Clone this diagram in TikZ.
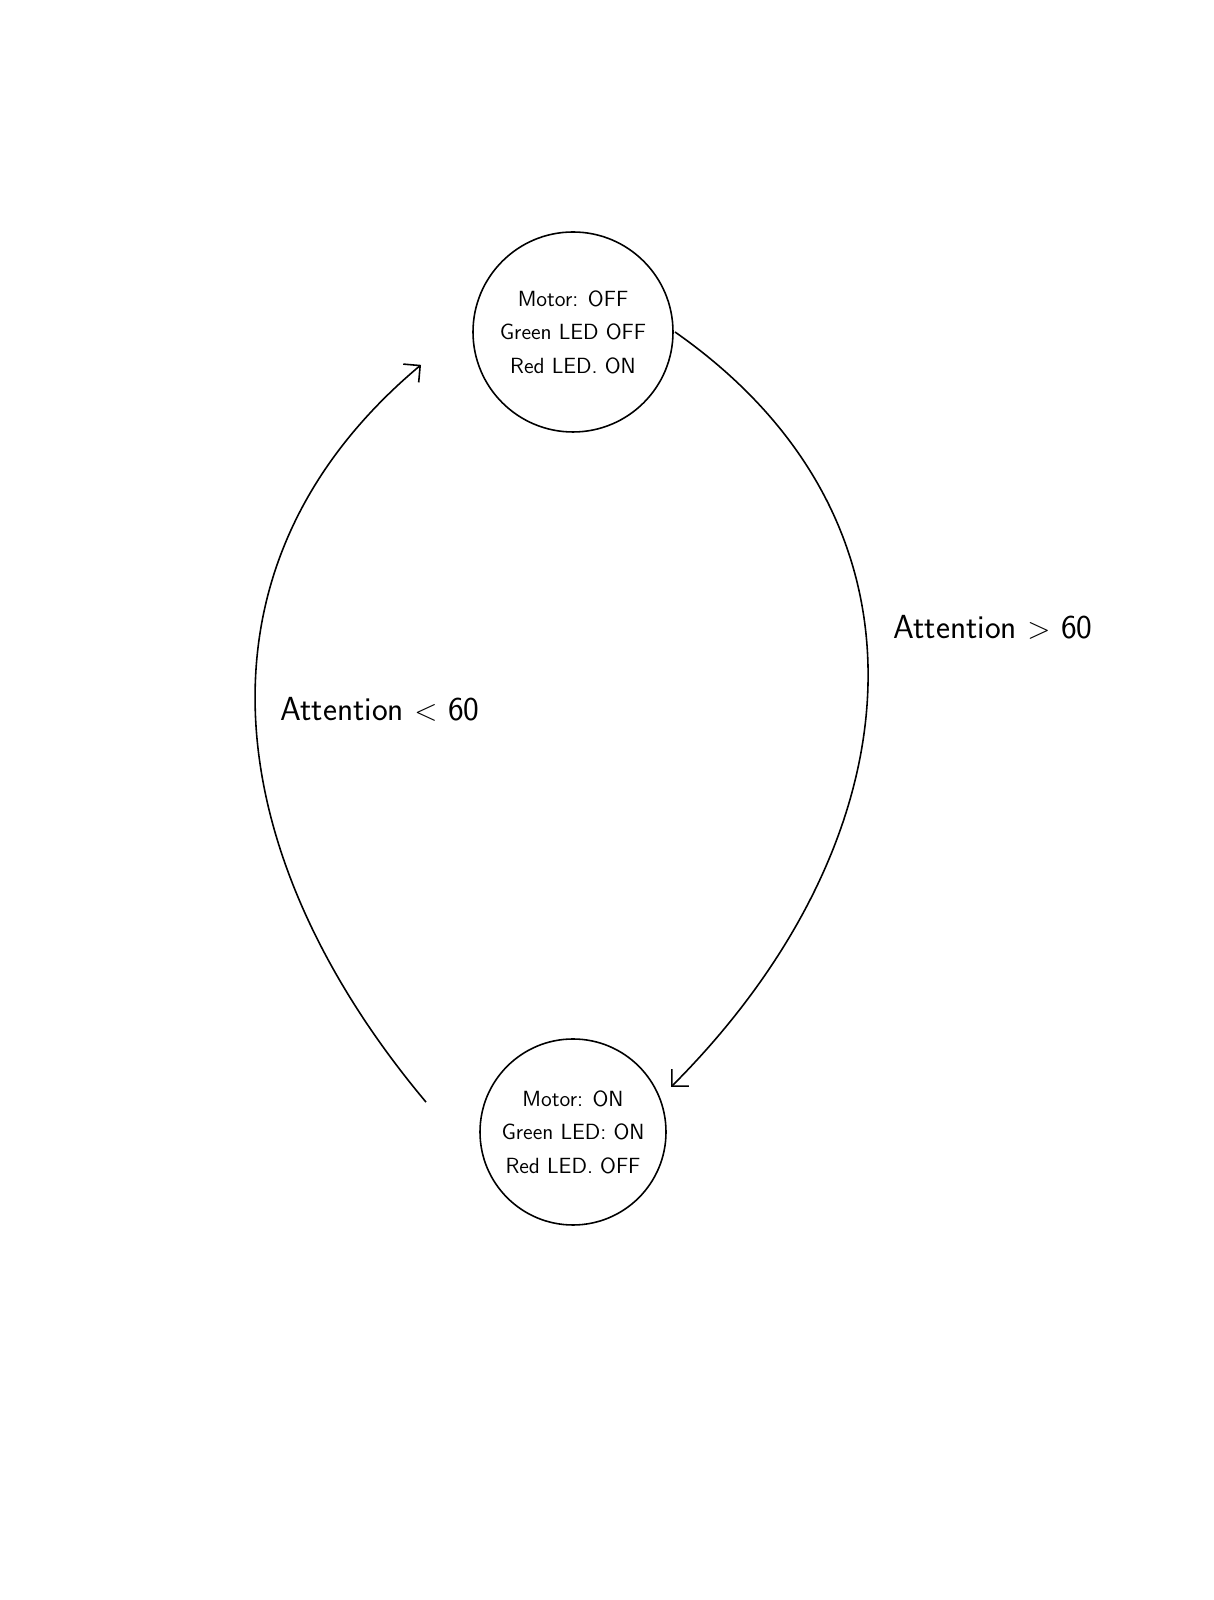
\documentclass[tikz,border=0pt]{standalone}
\usetikzlibrary{arrows.meta}
\tikzset{
    state/.style={draw, circle, line width=0.9pt, align=center, inner sep=0pt,
        font=\sffamily\fontsize{12.5}{19}\selectfont},
    cond/.style={font=\sffamily\fontsize{19}{22}\selectfont}
}
\begin{document}
\begin{tikzpicture}[>={Straight Barb[length=2.4mm,width=4.8mm]}, line width=0.9pt]
    \useasboundingbox (0,0) rectangle (24.28,32);
\node[state, minimum size=4cm] (off) at (11.46,25.36){Motor: OFF\\Green LED OFF\\Red LED. ON};
\node[state, minimum size=3.72cm] (on) at (11.46,9.36){Motor: ON\\Green LED: ON\\Red LED. OFF};
\coordinate (rstart) at ([shift={(0:2.04cm)}]off.center);
\coordinate (rend) at ([shift={(24.7:2.16cm)}]on.center);
\coordinate (lstart) at ([shift={(168.5:3cm)}]on.center);
\coordinate (lend) at ([shift={(192.2:3.11cm)}]off.center);
\draw[->] (rstart) to[out=-35, in=45, looseness=1.15] (rend);
\draw[->] (lstart) to[out=130, in=220, looseness=1.1] (lend);
\node[cond] (gt) at (19.86,19.46){Attention $>$ 60};
\node[cond] (lt) at (7.6,17.82){Attention $<$ 60};

\end{tikzpicture}
\end{document}
